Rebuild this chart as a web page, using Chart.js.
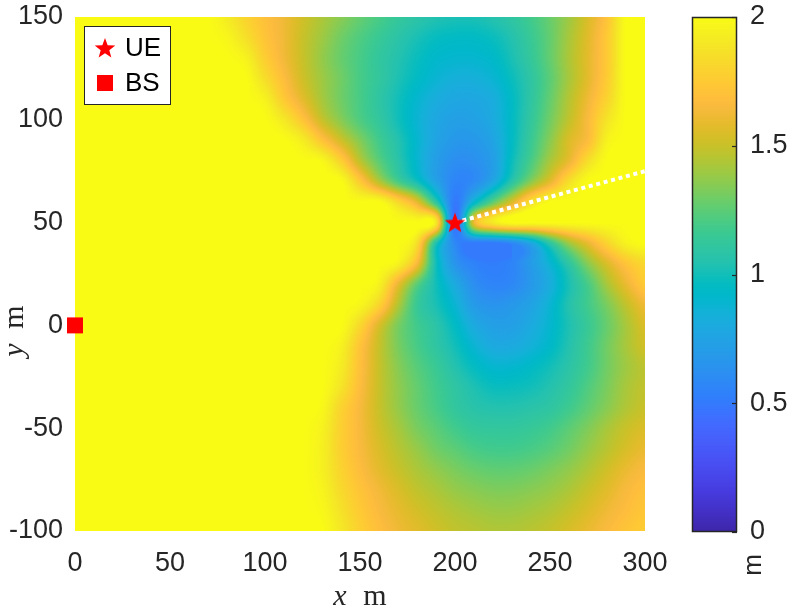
<!DOCTYPE html>
<html><head><meta charset="utf-8">
<script src="https://cdn.jsdelivr.net/npm/chart.js@4.4.0/dist/chart.umd.min.js"></script>
<style>
html,body{margin:0;padding:0;background:#fff;}
#wrap{position:relative;width:793px;height:614px;overflow:hidden;background:#fff;}
#main{position:absolute;left:0;top:0;}
#cbar{position:absolute;left:680px;top:0;}
</style></head><body>
<div id="wrap"><canvas id="main" width="680" height="614"></canvas><canvas id="cbar" width="113" height="614"></canvas></div>
<script>
// ---------------- data ----------------
const xGrid = [0,10,20,30,40,50,60,70,80,90,100,110,120,130,140,150,160,170,180,190,200,210,220,230,240,250,260,270,280,290,300];
const yGrid = [150,140,130,120,110,100,90,80,70,60,50,40,30,20,10,0,-10,-20,-30,-40,-50,-60,-70,-80,-90,-100];
// field value (m) at each grid node, one array per row (x = 0..300)
const rowY150 = [2,2,2,2,2,2,2,2,1.92,1.8,1.7,1.62,1.52,1.43,1.35,1.27,1.2,1.13,1.08,1.04,1.02,1.02,1.05,1.1,1.18,1.28,1.4,1.55,1.72,2,2];
const rowY140 = [2,2,2,2,2,2,2,2,1.97,1.86,1.72,1.62,1.5,1.4,1.3,1.22,1.15,1.08,1.02,0.97,0.95,0.95,0.98,1.05,1.15,1.27,1.42,1.57,1.75,2,2];
const rowY130 = [2,2,2,2,2,2,2,2,2,1.95,1.77,1.63,1.5,1.38,1.28,1.2,1.12,1.05,0.98,0.92,0.9,0.9,0.93,1.02,1.13,1.27,1.43,1.58,1.75,2,2];
const rowY120 = [2,2,2,2,2,2,2,2,2,2,1.85,1.68,1.52,1.4,1.3,1.2,1.12,1.03,0.95,0.88,0.84,0.84,0.88,0.98,1.1,1.25,1.42,1.58,1.76,2,2];
const rowY110 = [2,2,2,2,2,2,2,2,2,2,1.95,1.75,1.58,1.42,1.3,1.2,1.1,1.0,0.9,0.82,0.78,0.78,0.82,0.95,1.1,1.27,1.45,1.62,1.8,2,2];
const rowY100 = [2,2,2,2,2,2,2,2,2,2,2,1.9,1.72,1.5,1.35,1.22,1.12,1.0,0.88,0.78,0.73,0.74,0.8,0.95,1.12,1.3,1.48,1.66,1.88,2,2];
const rowY90  = [2,2,2,2,2,2,2,2,2,2,2,2,1.92,1.72,1.52,1.34,1.18,1.05,0.9,0.76,0.68,0.68,0.76,0.95,1.15,1.35,1.55,1.68,1.95,2,2];
const rowY80  = [2,2,2,2,2,2,2,2,2,2,2,2,2,1.98,1.78,1.47,1.25,1.08,0.9,0.72,0.62,0.63,0.72,0.98,1.2,1.42,1.6,1.85,2,2,2];
const rowY70  = [2,2,2,2,2,2,2,2,2,2,2,2,2,2,2,1.75,1.45,1.2,1.0,0.75,0.56,0.6,0.78,1.08,1.35,1.58,1.85,2,2,2,2];
const rowY60  = [2,2,2,2,2,2,2,2,2,2,2,2,2,2,2,2,2,1.82,1.58,1.1,0.5,0.9,1.25,1.55,1.85,2,2,2,2,2,2];
const rowY50  = [2,2,2,2,2,2,2,2,2,2,2,2,2,2,2,2,2,2,2,1.9,0.45,1.6,1.9,2,2,2,2,2,2,2,2];
const rowY40  = [2,2,2,2,2,2,2,2,2,2,2,2,2,2,2,2,2,2,1.85,1.05,0.58,0.5,0.5,0.58,0.78,1.1,1.4,1.6,1.8,1.95,2];
const rowY30  = [2,2,2,2,2,2,2,2,2,2,2,2,2,2,2,2,2,1.95,1.65,1.0,0.66,0.55,0.52,0.56,0.7,0.88,1.1,1.35,1.55,1.72,1.82];
const rowY20  = [2,2,2,2,2,2,2,2,2,2,2,2,2,2,2,2,1.95,1.6,1.25,1.0,0.8,0.62,0.56,0.58,0.68,0.82,1.02,1.2,1.42,1.6,1.75];
const rowY10  = [2,2,2,2,2,2,2,2,2,2,2,2,2,2,2,1.97,1.8,1.45,1.15,1.02,0.88,0.7,0.65,0.68,0.75,0.88,1.05,1.18,1.32,1.48,1.62];
const rowY0   = [2,2,2,2,2,2,2,2,2,2,2,2,2,2,2,1.82,1.55,1.32,1.18,1.08,0.95,0.8,0.73,0.73,0.8,0.9,1.03,1.15,1.28,1.42,1.55];
const rowYm10 = [2,2,2,2,2,2,2,2,2,2,2,2,2,2,1.95,1.72,1.5,1.32,1.2,1.1,1.0,0.88,0.8,0.8,0.85,0.93,1.05,1.17,1.3,1.42,1.52];
const rowYm20 = [2,2,2,2,2,2,2,2,2,2,2,2,2,2,1.92,1.7,1.5,1.35,1.24,1.15,1.05,0.96,0.9,0.9,0.94,1.0,1.08,1.18,1.3,1.4,1.47];
const rowYm30 = [2,2,2,2,2,2,2,2,2,2,2,2,2,2,1.88,1.68,1.5,1.37,1.27,1.18,1.1,1.03,0.98,0.98,1.0,1.05,1.12,1.22,1.32,1.42,1.48];
const rowYm40 = [2,2,2,2,2,2,2,2,2,2,2,2,2,1.98,1.8,1.65,1.5,1.38,1.28,1.2,1.12,1.07,1.05,1.05,1.07,1.1,1.17,1.26,1.35,1.44,1.5];
const rowYm50 = [2,2,2,2,2,2,2,2,2,2,2,2,2,1.95,1.78,1.65,1.52,1.42,1.32,1.25,1.18,1.13,1.12,1.12,1.14,1.18,1.25,1.33,1.42,1.5,1.55];
const rowYm60 = [2,2,2,2,2,2,2,2,2,2,2,2,2,1.94,1.78,1.66,1.55,1.46,1.38,1.3,1.25,1.2,1.18,1.18,1.2,1.24,1.3,1.38,1.46,1.54,1.6];
const rowYm70 = [2,2,2,2,2,2,2,2,2,2,2,2,2,1.94,1.8,1.68,1.58,1.5,1.43,1.37,1.32,1.28,1.26,1.26,1.28,1.32,1.37,1.44,1.52,1.6,1.66];
const rowYm80 = [2,2,2,2,2,2,2,2,2,2,2,2,2,1.96,1.83,1.72,1.63,1.55,1.48,1.43,1.38,1.35,1.33,1.33,1.35,1.38,1.43,1.5,1.57,1.65,1.7];
const rowYm90 = [2,2,2,2,2,2,2,2,2,2,2,2,2,1.98,1.87,1.75,1.66,1.59,1.53,1.48,1.44,1.41,1.39,1.39,1.41,1.44,1.49,1.55,1.62,1.68,1.73];
const rowYm100= [2,2,2,2,2,2,2,2,2,2,2,2,2,2,1.9,1.78,1.69,1.62,1.57,1.52,1.48,1.46,1.44,1.44,1.46,1.49,1.54,1.6,1.66,1.72,1.76];
const fieldRows = [rowY150,rowY140,rowY130,rowY120,rowY110,rowY100,rowY90,rowY80,rowY70,rowY60,rowY50,rowY40,rowY30,rowY20,rowY10,rowY0,rowYm10,rowYm20,rowYm30,rowYm40,rowYm50,rowYm60,rowYm70,rowYm80,rowYm90,rowYm100];

const ueX = [200], ueY = [50];
const bsX = [0], bsY = [0];
const headingX = [200, 300], headingY = [50, 75];
const xTicks = [0,50,100,150,200,250,300];
const yTicks = [-100,-50,0,50,100,150];
const cbTicks = [0,0.5,1,1.5,2];
const cMin = 0, cMax = 2;

// ---------------- colour map (parula, 64 entries) ----------------
const PARULA = [
[0.2422,0.1504,0.6603],[0.2504,0.1650,0.7076],[0.2578,0.1818,0.7511],[0.2647,0.1978,0.7952],
[0.2706,0.2147,0.8364],[0.2751,0.2342,0.8710],[0.2783,0.2559,0.8991],[0.2803,0.2782,0.9221],
[0.2813,0.3006,0.9414],[0.2810,0.3228,0.9579],[0.2795,0.3447,0.9717],[0.2760,0.3667,0.9829],
[0.2699,0.3892,0.9906],[0.2602,0.4123,0.9952],[0.2440,0.4358,0.9988],[0.2206,0.4603,0.9973],
[0.1963,0.4847,0.9892],[0.1834,0.5074,0.9798],[0.1786,0.5289,0.9682],[0.1764,0.5499,0.9520],
[0.1687,0.5703,0.9359],[0.1540,0.5902,0.9218],[0.1460,0.6091,0.9079],[0.1380,0.6276,0.8973],
[0.1248,0.6459,0.8883],[0.1113,0.6635,0.8763],[0.0952,0.6798,0.8598],[0.0689,0.6948,0.8394],
[0.0297,0.7082,0.8163],[0.0036,0.7203,0.7917],[0.0067,0.7312,0.7660],[0.0433,0.7411,0.7394],
[0.0964,0.7500,0.7120],[0.1408,0.7584,0.6842],[0.1717,0.7670,0.6554],[0.1938,0.7758,0.6251],
[0.2161,0.7843,0.5923],[0.2470,0.7918,0.5567],[0.2906,0.7973,0.5188],[0.3406,0.8008,0.4789],
[0.3909,0.8029,0.4354],[0.4456,0.8024,0.3909],[0.5044,0.7993,0.3480],[0.5616,0.7942,0.3045],
[0.6174,0.7876,0.2612],[0.6720,0.7793,0.2227],[0.7242,0.7698,0.1910],[0.7738,0.7598,0.1646],
[0.8203,0.7498,0.1535],[0.8634,0.7406,0.1596],[0.9035,0.7330,0.1774],[0.9393,0.7288,0.2100],
[0.9728,0.7298,0.2394],[0.9956,0.7434,0.2371],[0.9970,0.7659,0.2199],[0.9952,0.7893,0.2028],
[0.9892,0.8136,0.1885],[0.9786,0.8386,0.1766],[0.9676,0.8639,0.1643],[0.9610,0.8890,0.1537],
[0.9597,0.9135,0.1423],[0.9628,0.9373,0.1265],[0.9691,0.9606,0.1064],[0.9769,0.9839,0.0805]];
function cmap(v){
  let t = (v - cMin) / (cMax - cMin);
  t = Math.max(0, Math.min(1, t)) * 63;
  const i = Math.min(62, Math.floor(t)), f = t - i;
  const a = PARULA[i], b = PARULA[i+1];
  return [255*(a[0]+(b[0]-a[0])*f), 255*(a[1]+(b[1]-a[1])*f), 255*(a[2]+(b[2]-a[2])*f)];
}
// smooth (Catmull-Rom) rendering of the grid values, limited to the local cell range
function cr(p0,p1,p2,p3,t){
  return p1 + 0.5*t*(p2 - p0 + t*(2*p0 - 5*p1 + 4*p2 - p3 + t*(3*(p1 - p2) + p3 - p0)));
}
function node(i,j){
  const nx = xGrid.length - 1, ny = yGrid.length - 1;
  i = Math.max(0, Math.min(nx, i)); j = Math.max(0, Math.min(ny, j));
  return fieldRows[j][i];
}
function sampleField(xv, yv){
  const nx = xGrid.length - 1, ny = yGrid.length - 1;
  let fx = (xv - xGrid[0]) / (xGrid[1] - xGrid[0]);
  let fy = (yv - yGrid[0]) / (yGrid[1] - yGrid[0]);
  fx = Math.max(0, Math.min(nx, fx)); fy = Math.max(0, Math.min(ny, fy));
  const i0 = Math.min(nx-1, Math.floor(fx)), j0 = Math.min(ny-1, Math.floor(fy));
  const tx = fx - i0, ty = fy - j0;
  const cols = [];
  for (let dj = -1; dj <= 2; dj++){
    cols.push(cr(node(i0-1,j0+dj), node(i0,j0+dj), node(i0+1,j0+dj), node(i0+2,j0+dj), tx));
  }
  let v = cr(cols[0], cols[1], cols[2], cols[3], ty);
  const a = node(i0,j0), b = node(i0+1,j0), c = node(i0,j0+1), d = node(i0+1,j0+1);
  const lo = Math.min(a,b,c,d), hi = Math.max(a,b,c,d);
  return Math.max(lo, Math.min(hi, v));
}

// ---------------- styles ----------------
const TXT = '#262626';
Chart.defaults.font.family = "'Liberation Sans', Arial, Helvetica, sans-serif";
Chart.defaults.color = TXT;

function makeStar(size, color){
  const c = document.createElement('canvas'); c.width = c.height = size;
  const g = c.getContext('2d'); const cx = size/2, cy = size/2 + 0.8, R = size*0.45, r = R*0.42;
  g.beginPath();
  for (let k = 0; k < 10; k++){ const ang = -Math.PI/2 + k*Math.PI/5; const rr = k%2 ? r : R; g.lineTo(cx + rr*Math.cos(ang), cy + rr*Math.sin(ang)); }
  g.closePath(); g.fillStyle = color; g.fill(); return c;
}
const starImg = makeStar(24, '#ff0000');
const zeroPad = s => { s.paddingTop = 0; s.paddingBottom = 0; s.paddingLeft = 0; s.paddingRight = 0; };

const heatPlugin = {
  id: 'heat',
  beforeDatasetsDraw(chart){
    const {ctx, chartArea: a, scales} = chart;
    const x = scales.x, y = scales.y;
    const L = Math.round(a.left), T = Math.round(a.top);
    const w = Math.round(a.right) - L, h = Math.round(a.bottom) - T;
    const img = ctx.createImageData(w, h);
    const d = img.data;
    for (let j = 0; j < h; j++){
      const yv = y.getValueForPixel(T + j + 0.5);
      for (let i = 0; i < w; i++){
        const xv = x.getValueForPixel(L + i + 0.5);
        const c = cmap(sampleField(xv, yv));
        const k = (j*w + i)*4;
        d[k] = c[0]; d[k+1] = c[1]; d[k+2] = c[2]; d[k+3] = 255;
      }
    }
    ctx.putImageData(img, L, T);
  }
};

const overlayPlugin = {
  id: 'overlay',
  afterDraw(chart){
    const ctx = chart.ctx;
    ctx.save();
    // legend box
    const bx = 84.5, by = 26.5, bw = 86, bh = 78;
    ctx.fillStyle = '#ffffff'; ctx.fillRect(bx, by, bw, bh);
    ctx.strokeStyle = TXT; ctx.lineWidth = 1; ctx.strokeRect(bx, by, bw, bh);
    ctx.drawImage(starImg, 105 - 12, 48 - 12);
    ctx.fillStyle = '#ff0000'; ctx.fillRect(105 - 8, 83 - 8, 16, 16);
    ctx.fillStyle = '#000000';
    ctx.font = "26px 'Liberation Sans', Arial, sans-serif";
    ctx.textAlign = 'left'; ctx.textBaseline = 'middle';
    ctx.fillText(chart.data.datasets[0].label, 125, 49);
    ctx.fillText(chart.data.datasets[1].label, 125, 84);
    // axis labels (LaTeX style: italic variable, upright unit)
    ctx.fillStyle = TXT;
    ctx.textBaseline = 'alphabetic'; ctx.textAlign = 'center';
    ctx.font = "italic 30px 'Liberation Serif', 'Times New Roman', serif";
    ctx.fillText('x', 340, 605);
    ctx.font = "30px 'Liberation Serif', 'Times New Roman', serif";
    ctx.fillText('m', 375, 605);
    ctx.save();
    ctx.translate(23, 331); ctx.rotate(-Math.PI/2);
    ctx.font = "italic 30px 'Liberation Serif', 'Times New Roman', serif";
    ctx.fillText('y', -19, 0);
    ctx.font = "30px 'Liberation Serif', 'Times New Roman', serif";
    ctx.fillText('m', 14, 0);
    ctx.restore();
    ctx.restore();
  }
};

new Chart(document.getElementById('main'), {
  type: 'scatter',
  data: {
    datasets: [
      { label: 'UE', data: ueX.map((v,i)=>({x:v, y:ueY[i]})), pointStyle: starImg, pointRadius: 12, clip: false },
      { label: 'BS', data: bsX.map((v,i)=>({x:v, y:bsY[i]})), pointStyle: 'rect', pointRadius: 11.3, backgroundColor: '#ff0000', borderWidth: 0, clip: false },
      { label: 'heading', data: headingX.map((v,i)=>({x:v, y:headingY[i]})), showLine: true, borderColor: '#ffffff', borderWidth: 4, borderDash: [4, 3.7], pointRadius: 0, fill: false }
    ]
  },
  options: {
    responsive: false, animation: false, devicePixelRatio: 1, events: [],
    layout: { padding: { left: 0, right: 35, top: 17, bottom: 0 } },
    plugins: { legend: { display: false }, tooltip: { enabled: false } },
    scales: {
      x: { type: 'linear', min: 0, max: 300,
           afterBuildTicks: s => { s.ticks = xTicks.map(v => ({value: v})); },
           afterFit: s => { s.height = 83; zeroPad(s); },
           grid: { display: false, drawTicks: false }, border: { display: false },
           ticks: { padding: 16, font: { size: 27 }, color: TXT, maxRotation: 0 } },
      y: { type: 'linear', min: -100, max: 150,
           afterBuildTicks: s => { s.ticks = yTicks.map(v => ({value: v})); },
           afterFit: s => { s.width = 75; zeroPad(s); },
           grid: { display: false, drawTicks: false }, border: { display: false },
           ticks: { padding: 12, font: { size: 27 }, color: TXT } }
    }
  },
  plugins: [heatPlugin, overlayPlugin]
});

const cbarPlugin = {
  id: 'cbar',
  afterDraw(chart){
    const {ctx, chartArea: a} = chart; const y = chart.scales.y;
    ctx.save();
    const L = Math.round(a.left), R = Math.round(a.right);
    for (let py = Math.round(a.top); py < Math.round(a.bottom); py++){
      const c = cmap(y.getValueForPixel(py + 0.5));
      ctx.fillStyle = 'rgb(' + c.map(Math.round).join(',') + ')';
      ctx.fillRect(L, py, R - L, 1);
    }
    ctx.strokeStyle = TXT; ctx.lineWidth = 1.5;
    ctx.strokeRect(L + 0.5, Math.round(a.top) + 0.5, R - L - 1, Math.round(a.bottom) - Math.round(a.top) - 1);
    ctx.lineWidth = 1.2;
    cbTicks.forEach(v => { const py = Math.round(y.getPixelForValue(v)) + 0.5; ctx.beginPath(); ctx.moveTo(R - 5, py); ctx.lineTo(R, py); ctx.stroke(); });
    // colorbar unit label
    ctx.fillStyle = TXT; ctx.font = "26px 'Liberation Sans', Arial, sans-serif";
    ctx.textAlign = 'center'; ctx.textBaseline = 'alphabetic';
    ctx.translate(81, 565); ctx.rotate(-Math.PI/2);
    ctx.fillText('m', 0, 0);
    ctx.restore();
  }
};

new Chart(document.getElementById('cbar'), {
  type: 'scatter',
  data: { datasets: [] },
  options: {
    responsive: false, animation: false, devicePixelRatio: 1, events: [],
    layout: { padding: { left: 12, right: 0, top: 17, bottom: 82 } },
    plugins: { legend: { display: false }, tooltip: { enabled: false } },
    scales: {
      x: { display: false, min: 0, max: 1 },
      y: { type: 'linear', position: 'right', min: cMin, max: cMax,
           afterBuildTicks: s => { s.ticks = cbTicks.map(v => ({value: v})); },
           afterFit: s => { s.width = 56; zeroPad(s); },
           grid: { display: false, drawTicks: false }, border: { display: false },
           ticks: { padding: 13, font: { size: 27 }, color: TXT, callback: v => String(v) } }
    }
  },
  plugins: [cbarPlugin]
});
</script>
</body></html>
